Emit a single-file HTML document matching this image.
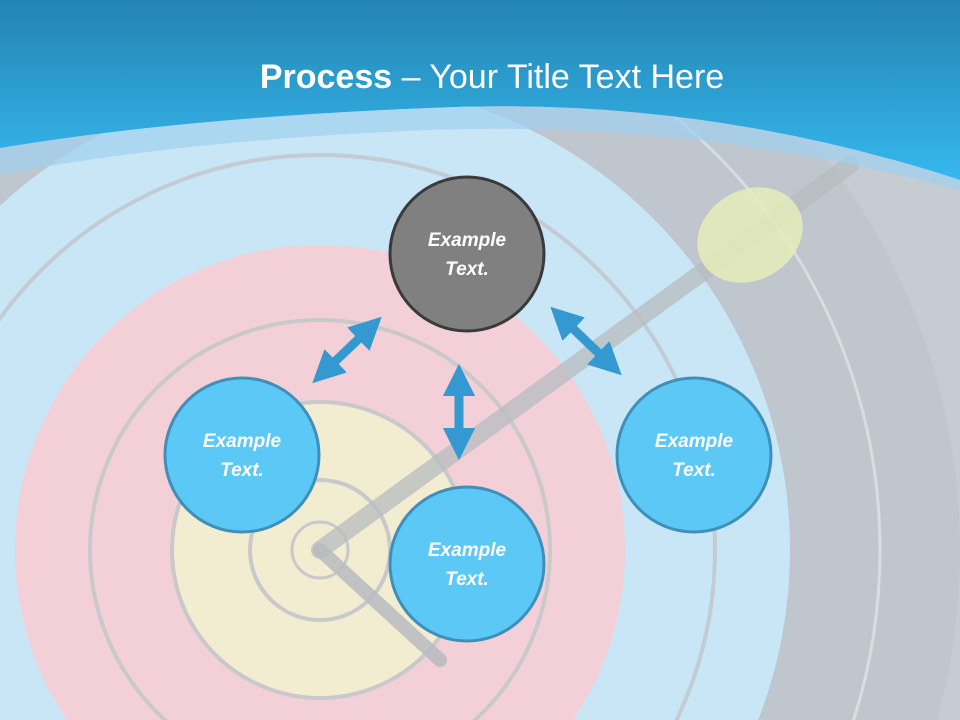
<!DOCTYPE html>
<html><head><meta charset="utf-8"><style>
html,body{margin:0;padding:0;width:960px;height:720px;overflow:hidden;background:#c9cfd6}
svg{display:block}
text{font-family:"Liberation Sans",sans-serif}
</style></head><body>
<svg width="960" height="720" viewBox="0 0 960 720" xmlns="http://www.w3.org/2000/svg">
<defs>
<linearGradient id="hd" x1="0" y1="0" x2="0" y2="1">
<stop offset="0" stop-color="#2384b2"/><stop offset="1" stop-color="#36b8ee"/>
</linearGradient>
<marker id="ah" viewBox="0 0 10 10" refX="5" refY="5" markerWidth="3.6" markerHeight="3.6" orient="auto-start-reverse">
<path d="M0,0 L10,5 L0,10 z" fill="#3399d0"/></marker>
<clipPath id="c"><rect width="960" height="720"/></clipPath>
</defs>
<g clip-path="url(#c)">
<rect width="960" height="720" fill="#c5ccd3"/>
<circle cx="320" cy="550" r="640" fill="#bfc6cd"/>
<circle cx="320" cy="550" r="560" fill="none" stroke="#d8dde2" stroke-width="3"/>
<circle cx="320" cy="550" r="470" fill="#c8e6f6"/>
<circle cx="320" cy="550" r="395" fill="none" stroke="#c3ccd3" stroke-width="4"/>
<circle cx="320" cy="550" r="305" fill="#f3d0d8"/>
<circle cx="320" cy="550" r="230" fill="none" stroke="#c9c9cc" stroke-width="4"/>
<circle cx="320" cy="550" r="148" fill="#f2ecd0" stroke="#c9c9cc" stroke-width="4"/>
<circle cx="320" cy="550" r="70" fill="none" stroke="#c9c9cc" stroke-width="4"/>
<circle cx="320" cy="550" r="28" fill="none" stroke="#c9c9cc" stroke-width="3"/>
<line x1="320" y1="550" x2="850" y2="165" stroke="#b8bcc0" stroke-width="18" stroke-linecap="round" opacity="0.75"/>
<line x1="320" y1="550" x2="440" y2="660" stroke="#b8bcc0" stroke-width="14" stroke-linecap="round" opacity="0.85"/>
<ellipse cx="750" cy="235" rx="55" ry="45" fill="#e8efb8" opacity="0.8" transform="rotate(-30 750 235)"/>
<path d="M0,0 H960 V180 Q700,95 430,108 Q180,118 0,148 Z" fill="url(#hd)"/>
<path d="M0,148 Q180,118 430,108 Q700,95 960,180 L960,190 Q700,120 430,130 Q180,140 0,175 Z" fill="#9fd0ee" opacity="0.7"/>
<text x="492" y="88" text-anchor="middle" font-size="34" fill="#fff"><tspan font-weight="bold">Process</tspan> – Your Title Text Here</text>
<g stroke="#3399d0" stroke-width="9" marker-start="url(#ah)" marker-end="url(#ah)">
<line x1="324" y1="372" x2="370" y2="328"/>
<line x1="459" y1="380" x2="459" y2="444"/>
<line x1="562" y1="318" x2="610" y2="364"/>
</g>
<g font-size="19" font-weight="bold" font-style="italic" fill="#fff" text-anchor="middle">
<circle cx="467" cy="254" r="77" fill="#808080" stroke="#3a3a3a" stroke-width="3"/>
<text x="467" y="246">Example</text><text x="467" y="275">Text.</text>
<circle cx="242" cy="455" r="77" fill="#5bc8f5" stroke="#3f8fb8" stroke-width="3"/>
<text x="242" y="447">Example</text><text x="242" y="476">Text.</text>
<circle cx="694" cy="455" r="77" fill="#5bc8f5" stroke="#3f8fb8" stroke-width="3"/>
<text x="694" y="447">Example</text><text x="694" y="476">Text.</text>
<circle cx="467" cy="564" r="77" fill="#5bc8f5" stroke="#3f8fb8" stroke-width="3"/>
<text x="467" y="556">Example</text><text x="467" y="585">Text.</text>
</g>
</g>
</svg>
</body></html>
